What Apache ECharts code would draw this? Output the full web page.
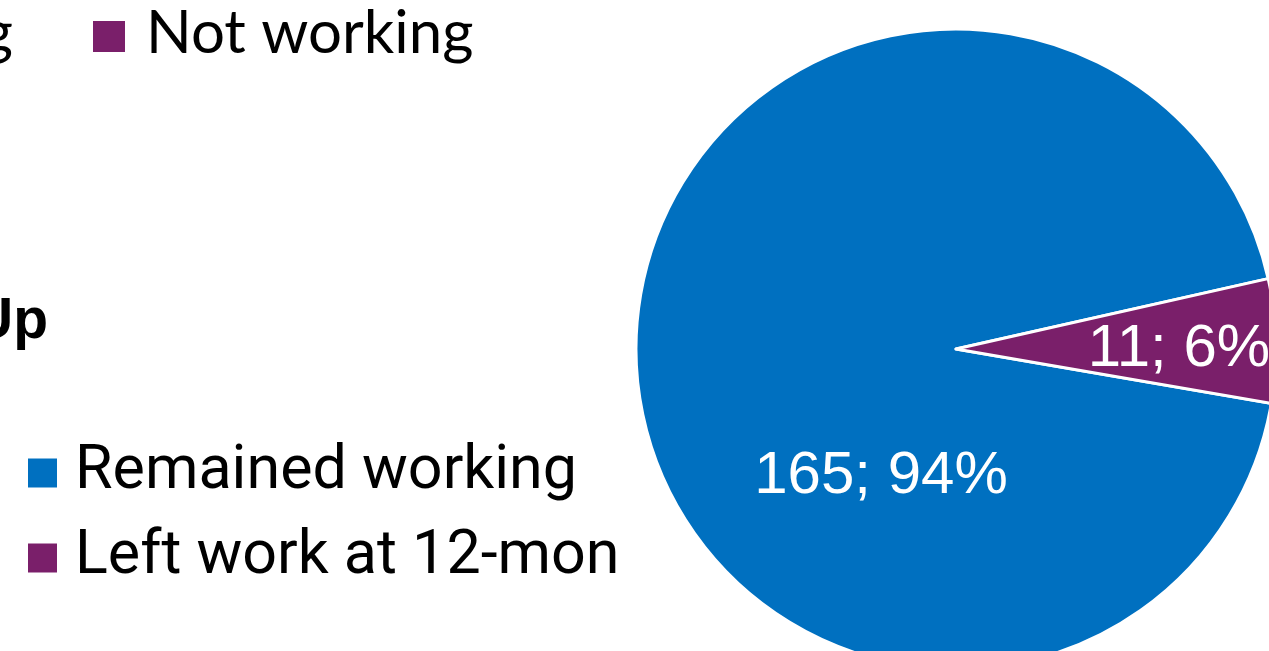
<!DOCTYPE html>
<html>
<head>
<meta charset="utf-8">
<script src="https://cdn.jsdelivr.net/npm/echarts@6/dist/echarts.min.js"></script>
<style>
  html, body { margin: 0; padding: 0; background: #fff; }
  #chart { width: 1269px; height: 651px; }
</style>
</head>
<body>
<div id="chart"></div>
<script>
// Work status at follow-up
const categories = ["Remained working", "Left work at 12-mon"];
const counts = [165, 11];
const colors = ["#0070C0", "#7A1F6A"];

const chart = echarts.init(document.getElementById("chart"));

const options = {
  backgroundColor: "#fff",
  animation: false,
  color: colors,
  // bits of the neighbouring chart that are cut off at the left
  graphic: [
    {
      type: "text",
      x: 13,
      y: 34,
      style: {
        text: "Working",
        font: "60px Lato",
        fill: "#000",
        align: "right",
        verticalAlign: "middle",
      },
    },
    {
      type: "rect",
      shape: { x: 93, y: 21, width: 32, height: 31 },
      style: { fill: "#7A1F6A" },
    },
    {
      type: "text",
      x: 146,
      y: 34,
      style: {
        text: "Not working",
        font: "60px Lato",
        fill: "#000",
        align: "left",
        verticalAlign: "middle",
      },
    },
    {
      type: "text",
      x: 48,
      y: 322,
      style: {
        text: "Follow-Up",
        font: "bold 57px 'Liberation Sans'",
        fill: "#000",
        align: "right",
        verticalAlign: "middle",
      },
    },
  ],
  legend: {
    orient: "vertical",
    left: 21,
    top: 437,
    icon: "rect",
    itemWidth: 31,
    itemHeight: 31,
    itemGap: 23,
    selectedMode: false,
    textStyle: {
      fontFamily: "Roboto",
      fontSize: 61,
      lineHeight: 62,
      color: "#000",
      padding: [0, 0, 0, 12],
    },
    data: categories,
  },
  series: [
    {
      type: "pie",
      center: [956, 349],
      radius: 320,
      startAngle: -9.8,
      clockwise: true,
      avoidLabelOverlap: false,
      emphasis: { disabled: true },
      itemStyle: { borderColor: "#fff", borderWidth: 3 },
      label: {
        show: true,
        position: "inside",
        color: "#fff",
        fontFamily: "Liberation Sans",
        fontSize: 60,
        formatter: (p) => p.value + "; " + Math.round(p.percent) + "%",
      },
      labelLine: { show: false },
      labelLayout: (p) =>
        p.dataIndex === 0
          ? { x: 881, y: 476, align: "center", verticalAlign: "middle" }
          : { x: 1179, y: 349, align: "center", verticalAlign: "middle" },
      data: categories.map((name, i) => ({ name, value: counts[i] })),
    },
  ],
};

chart.setOption(options);

window.addEventListener("resize", () => chart.resize());
</script>
</body>
</html>
